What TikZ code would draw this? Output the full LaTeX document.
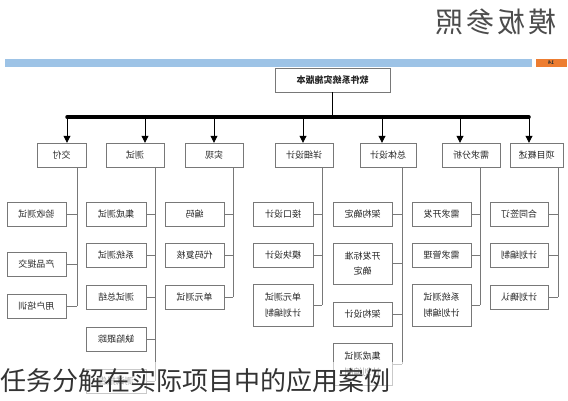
\documentclass[tikz,border=0pt]{standalone}
\usepackage{fontspec}
\usepackage{graphicx}
\setmainfont{Noto Sans CJK SC}
\usetikzlibrary{arrows.meta}

\definecolor{barblue}{RGB}{157,195,230}
\definecolor{barorange}{RGB}{237,125,49}
\definecolor{boxline}{RGB}{120,120,120}

% mirrored text, as printed in the picture
\newcommand{\mirr}[1]{\reflectbox{#1}}
\newcommand{\mirrtwo}[2]{\reflectbox{\shortstack{#1\\[4pt]#2}}}

\tikzset{
  task/.style={draw=boxline, fill=white, text=black!85, font=\fontsize{9}{10}\selectfont, inner sep=1pt, minimum height=24pt},
  phase/.style={task, minimum width=58pt},
  subtask/.style={task, minimum width=59pt},
  twoline/.style={subtask, minimum height=42pt},
  link/.style={draw=boxline, line width=0.8pt},
  arr/.style={line width=0.8pt, -{Triangle[length=7pt,width=7pt]}}
}

\begin{document}
\begin{tikzpicture}[x=1pt,y=-1pt]
	  \useasboundingbox (0,0) rectangle (568,400);

	  % header
	  \node [text=black!70, font=\fontsize{28}{30}\selectfont] (title) at (496,22) {\mirr{模\hspace{3pt}板\hspace{3pt}参\hspace{3pt}照}};
	  \fill [barblue] (5,59) rectangle (532,67);
	  \fill [barorange] (536,59) rectangle (567,67);
	  \node [font=\fontsize{5}{5}\selectfont\bfseries, text=black!80, inner sep=0pt] (page) at (551,63) {\mirr{14}};

	  % root
	  \node [task, minimum width=115pt, font=\fontsize{9}{10}\selectfont\bfseries] (root) at (332.5,80) {\mirr{软件系统实施版本}};

	  % bus
	  \coordinate (b1) at (67,117);
	  \coordinate (b2) at (145,117);
	  \coordinate (b3) at (214,117);
	  \coordinate (b4) at (303,117);
	  \coordinate (b5) at (382,117);
	  \coordinate (b6) at (460,117);
	  \coordinate (b7) at (529,117);
	  \draw [link, draw=black] (root.south) -- (root.south |- b1);
	  \draw [line width=3.5pt, line cap=round] (b1) -- (b7);

	  % phases
	  \node [phase, minimum width=49pt] (jiaofu) at (61.5,155) {\mirr{交付}};
	  \node [phase] (ceshi) at (135,155) {\mirr{测试}};
	  \node [phase] (shixian) at (214,155) {\mirr{实现}};
	  \node [phase] (xxsj) at (304,155) {\mirr{详细设计}};
	  \node [phase, minimum width=56pt] (ztsj) at (388,155) {\mirr{总体设计}};
	  \node [phase] (xqfx) at (471,155) {\mirr{需求分析}};
	  \node [phase, minimum width=53pt] (xmgs) at (536.5,155) {\mirr{项目概述}};

	  \draw [arr] (b1) -- (b1 |- jiaofu.north);
	  \draw [arr] (b2) -- (b2 |- ceshi.north);
	  \draw [arr] (b3) -- (b3 |- shixian.north);
	  \draw [arr] (b4) -- (b4 |- xxsj.north);
	  \draw [arr] (b5) -- (b5 |- ztsj.north);
	  \draw [arr] (b6) -- (b6 |- xqfx.north);
	  \draw [arr] (b7) -- (b7 |- xmgs.north);

	  % jiaofu
	  \node [subtask] (jiaofu1) at (36.5,214) {\mirr{验收测试}};
	  \node [subtask] (jiaofu2) at (36.5,264) {\mirr{产品提交}};
	  \node [subtask] (jiaofu3) at (36.5,306) {\mirr{用户培训}};
	  \coordinate (l1) at (77,167);
	  \draw [link] (l1) -- (l1 |- jiaofu3.east);
	  \draw [link] (jiaofu1.east) -- (jiaofu1.east -| l1);
	  \draw [link] (jiaofu2.east) -- (jiaofu2.east -| l1);
	  \draw [link] (jiaofu3.east) -- (jiaofu3.east -| l1);

	  % ceshi
	  \node [subtask, minimum width=60pt] (ceshi1) at (116,214) {\mirr{集成测试}};
	  \node [subtask, minimum width=60pt] (ceshi2) at (116,255) {\mirr{系统测试}};
	  \node [subtask, minimum width=60pt] (ceshi3) at (116,297) {\mirr{测试总结}};
	  \node [subtask, minimum width=60pt] (ceshi4) at (116,339.5) {\mirr{缺陷跟踪}};
	  \node [subtask, minimum width=60pt] (ceshi5) at (116,381) {\mirr{测试报告}};
	  \coordinate (l2) at (155,167);
	  \draw [link] (l2) -- (l2 |- ceshi5.east);
	  \draw [link] (ceshi1.east) -- (ceshi1.east -| l2);
	  \draw [link] (ceshi2.east) -- (ceshi2.east -| l2);
	  \draw [link] (ceshi3.east) -- (ceshi3.east -| l2);
	  \draw [link] (ceshi4.east) -- (ceshi4.east -| l2);
	  \draw [link] (ceshi5.east) -- (ceshi5.east -| l2);

	  % shixian
	  \node [subtask] (shixian1) at (194.5,214) {\mirr{编码}};
	  \node [subtask] (shixian2) at (194.5,255) {\mirr{代码复核}};
	  \node [subtask] (shixian3) at (194.5,297) {\mirr{单元测试}};
	  \coordinate (l3) at (233,167);
	  \draw [link] (l3) -- (l3 |- shixian3.east);
	  \draw [link] (shixian1.east) -- (shixian1.east -| l3);
	  \draw [link] (shixian2.east) -- (shixian2.east -| l3);
	  \draw [link] (shixian3.east) -- (shixian3.east -| l3);

	  % xxsj
	  \node [subtask, minimum width=60pt] (xxsj1) at (283,214) {\mirr{接口设计}};
	  \node [subtask, minimum width=60pt] (xxsj2) at (283,255) {\mirr{模块设计}};
	  \node [twoline, minimum width=60pt] (xxsj3) at (283,305) {\mirrtwo{单元测试}{计划编制}};
	  \coordinate (l4) at (322,167);
	  \draw [link] (l4) -- (l4 |- xxsj3.east);
	  \draw [link] (xxsj1.east) -- (xxsj1.east -| l4);
	  \draw [link] (xxsj2.east) -- (xxsj2.east -| l4);
	  \draw [link] (xxsj3.east) -- (xxsj3.east -| l4);

	  % ztsj
	  \node [subtask] (ztsj1) at (362.5,214) {\mirr{架构确定}};
	  \node [twoline, minimum height=41pt] (ztsj2) at (362.5,263.5) {\mirrtwo{开发标准}{确定\hspace{2em}}};
	  \node [subtask] (ztsj3) at (362.5,314) {\mirr{架构设计}};
	  \node [twoline] (ztsj4) at (362.5,364) {\mirrtwo{集成测试}{计划编制}};
	  \coordinate (l5) at (402,167);
	  \draw [link] (l5) -- (l5 |- ztsj4.east);
	  \draw [link] (ztsj1.east) -- (ztsj1.east -| l5);
	  \draw [link] (ztsj2.east) -- (ztsj2.east -| l5);
	  \draw [link] (ztsj3.east) -- (ztsj3.east -| l5);
	  \draw [link] (ztsj4.east) -- (ztsj4.east -| l5);

	  % xqfx
	  \node [subtask] (xqfx1) at (441.5,214) {\mirr{需求开发}};
	  \node [subtask] (xqfx2) at (441.5,255) {\mirr{需求管理}};
	  \node [twoline] (xqfx3) at (441.5,305) {\mirrtwo{系统测试}{计划编制}};
	  \coordinate (l6) at (480,167);
	  \draw [link] (l6) -- (l6 |- xqfx3.east);
	  \draw [link] (xqfx1.east) -- (xqfx1.east -| l6);
	  \draw [link] (xqfx2.east) -- (xqfx2.east -| l6);
	  \draw [link] (xqfx3.east) -- (xqfx3.east -| l6);

	  % xmgs
	  \node [subtask, minimum width=58pt] (xmgs1) at (519,214) {\mirr{合同签订}};
	  \node [subtask, minimum width=58pt] (xmgs2) at (519,255) {\mirr{计划编制}};
	  \node [subtask, minimum width=58pt] (xmgs3) at (519,297) {\mirr{计划确认}};
	  \coordinate (l7) at (558,167);
	  \draw [link] (l7) -- (l7 |- xmgs3.east);
	  \draw [link] (xmgs1.east) -- (xmgs1.east -| l7);
	  \draw [link] (xmgs2.east) -- (xmgs2.east -| l7);
	  \draw [link] (xmgs3.east) -- (xmgs3.east -| l7);

	  % caption over the chart
	  \fill [white, opacity=0.6] (0,362) rectangle (568,400);
	  \node [anchor=west, inner sep=0pt, text=black!80, font=\fontsize{26}{28}\selectfont] (caption) at (0,381) {任务分解在实际项目中的应用案例};
	\end{tikzpicture}
\end{document}
